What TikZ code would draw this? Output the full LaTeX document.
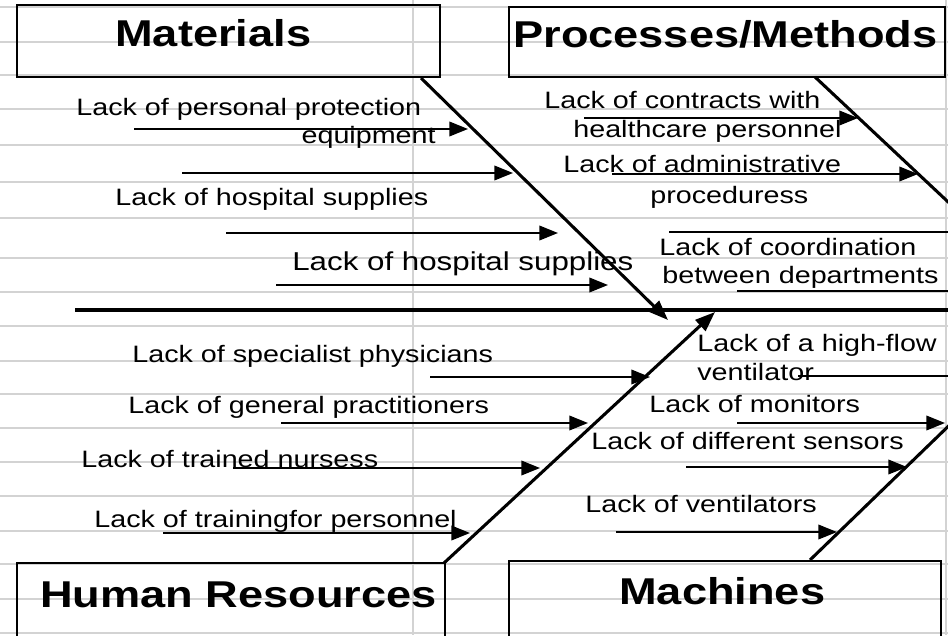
\documentclass[tikz,border=0pt]{standalone}
\usepackage{fontspec}
\setmainfont{Liberation Sans}
\usetikzlibrary{arrows.meta}
\definecolor{gridgray}{HTML}{D3D3D3}
\begin{document}
\begin{tikzpicture}[x=0.75pt,y=-0.75pt,
  gridline/.style={gridgray,line width=1.4pt},
  box/.style={draw=black,line width=1.5pt,fill=none},
  lab/.style={font=\fontsize{17.8}{20}\selectfont,inner sep=0pt,transform shape,xscale=1.21},
  biglab/.style={font=\fontsize{19.4}{22}\selectfont,inner sep=0pt,transform shape,xscale=1.21},
  ttl/.style={font=\bfseries\fontsize{28}{32}\selectfont,inner sep=0pt,transform shape,xscale=1.21},
  small/.style={line width=1.2pt,-{Triangle[length=14pt,width=11pt]}},
  smallline/.style={line width=1.2pt},
  bone/.style={line width=2.3pt,-{Triangle[length=15pt,width=11pt]}},
  boneline/.style={line width=2.3pt},
  spine/.style={line width=2.7pt}]
\useasboundingbox (0,0) rectangle (948,635);
\clip (0,0) rectangle (948,635);
% spreadsheet grid
\foreach \yy in {7,42,75,109,145,182,218,258,292,326,361,394,428,462,496,531,564,599,633}
  \draw[gridline] (0,\yy) -- (948,\yy);
\foreach \xx in {413,946}
  \draw[gridline] (\xx,0) -- (\xx,635);
% category boxes
\draw[box] (17,5) rectangle (440,77);
\coordinate (matbox) at (17,5);
\draw[box] (509,7) rectangle (945,77);
\draw[box] (17,563) rectangle (445,645);
\draw[box] (509,561) rectangle (941,645);
\node[ttl,anchor=base west] (matT) at (115,47) {Materials};
\node[ttl,anchor=base west] (proT) at (513,48) {Processes/Methods};
\node[ttl,anchor=base west] (humT) at (40,607) {Human Resources};
\node[ttl,anchor=base west] (macT) at (619,604) {Machines};
% spine
\coordinate (s0) at (75,310);
\coordinate (s1) at (950,310);
\draw[spine] (s0) -- (s1);
% bones
\coordinate (mb0) at (421,78);  \coordinate (mb1) at (668,320);
\coordinate (pb0) at (815,77);  \coordinate (pb1) at (962,215);
\coordinate (hb0) at (444,563); \coordinate (hb1) at (715,312);
\coordinate (cb0) at (810,560); \coordinate (cb1) at (962,413);
\draw[bone] (mb0) -- (mb1);
\draw[boneline] (pb0) -- (pb1);
\draw[bone] (hb0) -- (hb1);
\draw[boneline] (cb0) -- (cb1);
% materials causes
\coordinate (a1) at (134,129); \coordinate (b1) at (468,129);
\coordinate (a2) at (182,173); \coordinate (b2) at (513,173);
\coordinate (a3) at (226,233); \coordinate (b3) at (558,233);
\coordinate (a4) at (276,285); \coordinate (b4) at (608,285);
\draw[small] (a1) -- (b1);
\draw[small] (a2) -- (b2);
\draw[small] (a3) -- (b3);
\draw[small] (a4) -- (b4);
\node[lab,anchor=base west] (t1) at (76,115) {Lack of personal protection};
\node[lab,anchor=base east] (t1b) at (436,143) {equipment};
\node[lab,anchor=base west] (t2) at (115,205) {Lack of hospital supplies};
\node[biglab,anchor=base west] (t3) at (292,270) {Lack of hospital supplies};
% processes causes
\coordinate (a5) at (584,118); \coordinate (b5) at (858,118);
\coordinate (a6) at (612,174); \coordinate (b6) at (918,174);
\coordinate (a7) at (669,232); \coordinate (b7) at (962,232);
\coordinate (a8) at (737,291); \coordinate (b8) at (962,291);
\draw[small] (a5) -- (b5);
\draw[small] (a6) -- (b6);
\draw[smallline] (a7) -- (b7);
\draw[smallline] (a8) -- (b8);
\node[lab,anchor=base west] (t5) at (544,108) {Lack of contracts with};
\node[lab,anchor=base west] (t5b) at (573,137) {healthcare personnel};
\node[lab,anchor=base west] (t6) at (563,172) {Lack of administrative};
\node[lab,anchor=base west] (t6b) at (650,203) {proceduress};
\node[lab,anchor=base west] (t7) at (659,255) {Lack of coordination};
\node[lab,anchor=base west] (t7b) at (662,283) {between departments};
% human resources causes
\coordinate (a9) at (430,377);  \coordinate (b9) at (650,377);
\coordinate (a10) at (281,423); \coordinate (b10) at (588,423);
\coordinate (a11) at (233,468); \coordinate (b11) at (540,468);
\coordinate (a12) at (163,533); \coordinate (b12) at (470,533);
\draw[small] (a9) -- (b9);
\draw[small] (a10) -- (b10);
\draw[small] (a11) -- (b11);
\draw[small] (a12) -- (b12);
\node[lab,anchor=base west] (t9) at (132,362) {Lack of specialist physicians};
\node[lab,anchor=base west] (t10) at (128,413) {Lack of general practitioners};
\node[lab,anchor=base west] (t11) at (81,467) {Lack of trained nursess};
\node[lab,anchor=base west] (t12) at (94,527) {Lack of trainingfor personnel};
% machines causes
\coordinate (a13) at (798,376); \coordinate (b13) at (962,376);
\coordinate (a14) at (737,423); \coordinate (b14) at (945,423);
\coordinate (a15) at (686,467); \coordinate (b15) at (907,467);
\coordinate (a16) at (616,532); \coordinate (b16) at (837,532);
\draw[smallline] (a13) -- (b13);
\draw[small] (a14) -- (b14);
\draw[small] (a15) -- (b15);
\draw[small] (a16) -- (b16);
\node[lab,anchor=base west] (t13) at (697,351) {Lack of a high-flow};
\node[lab,anchor=base west] (t13b) at (697,380) {ventilator};
\node[lab,anchor=base west] (t14) at (649,412) {Lack of monitors};
\node[lab,anchor=base west] (t15) at (591,449) {Lack of different sensors};
\node[lab,anchor=base west] (t16) at (585,512) {Lack of ventilators};
\end{tikzpicture}
\end{document}
